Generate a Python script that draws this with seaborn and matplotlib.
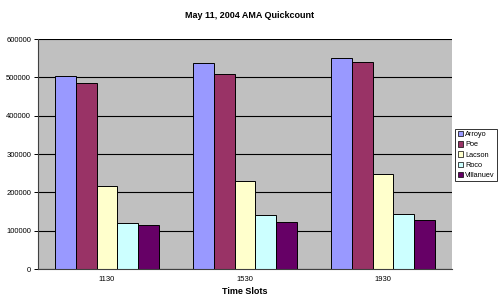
import matplotlib
matplotlib.use("Agg")
import matplotlib.pyplot as plt
import seaborn as sns
import pandas as pd

time_slots = ["1130", "1530", "1930"]
candidates = ["Arroyo", "Poe", "Lacson", "Roco", "Villanuev"]
arroyo = [503000, 539000, 552000]
poe = [485000, 509000, 540000]
lacson = [217000, 231000, 247000]
roco = [119000, 142000, 145000]
villanueva = [115000, 123000, 128000]
colors = ["#9999FF", "#993366", "#FFFFCC", "#CCFFFF", "#660066"]

series = [arroyo, poe, lacson, roco, villanueva]
rows = []
for name, vals in zip(candidates, series):
    for t, v in zip(time_slots, vals):
        rows.append({"Time Slots": t, "Candidate": name, "Votes": v})
df = pd.DataFrame(rows)

sns.set_style("white")
plt.rcParams["font.family"] = ["Liberation Sans", "DejaVu Sans"]
plt.rcParams["text.color"] = "black"
plt.rcParams["xtick.color"] = "black"
plt.rcParams["ytick.color"] = "black"
plt.rcParams["axes.labelcolor"] = "black"

fig = plt.figure(figsize=(5.0, 3.01), dpi=100)
ax = fig.add_axes([0.076, 0.106, 0.828, 0.764])
ax.set_facecolor("#C0C0C0")

sns.barplot(data=df, x="Time Slots", y="Votes", hue="Candidate",
            order=time_slots, hue_order=candidates, palette=colors,
            saturation=1, width=0.76, edgecolor="black", linewidth=0.7,
            ax=ax, legend=True)

ax.set_ylim(0, 600000)
ax.set_xlim(-0.5, 2.5)
ax.set_yticks(range(0, 600001, 100000))
ax.set_yticklabels([str(v) for v in range(0, 600001, 100000)], fontsize=5.5)
ax.yaxis.grid(True, color="black", linewidth=0.8)
ax.set_axisbelow(True)

ax.set_xticks([0, 1, 2])
ax.set_xticklabels(time_slots, fontsize=5.5)
ax.tick_params(axis="x", length=0, pad=5)
ax.set_xticks([-0.5, 0.5, 1.5, 2.5], minor=True)
ax.tick_params(axis="x", which="minor", length=3, width=0.7, color="black", direction="out")
ax.tick_params(axis="y", length=3, width=0.7, color="black", direction="out", pad=2, left=True)

for s in ["top", "right"]:
    ax.spines[s].set_visible(False)
for s in ["left", "bottom"]:
    ax.spines[s].set_color("#404040")
    ax.spines[s].set_linewidth(0.8)

ax.set_ylabel("")
ax.set_xlabel("Time Slots", fontsize=6.5, fontweight="bold", labelpad=3)
fig.suptitle("May 11, 2004 AMA Quickcount", fontsize=6.5, fontweight="bold", y=0.965, x=0.5)

leg = ax.legend(loc="upper left", bbox_to_anchor=(1.008, 0.61), fontsize=5.3,
                frameon=True, fancybox=False, edgecolor="black",
                handlelength=0.75, handleheight=0.75, handletextpad=0.25,
                borderpad=0.3, labelspacing=0.4, borderaxespad=0)
leg.get_frame().set_linewidth(0.7)
for h in leg.legend_handles:
    h.set_edgecolor("black")
    h.set_linewidth(0.5)

fig.savefig("out.png", dpi=100, facecolor="white")
